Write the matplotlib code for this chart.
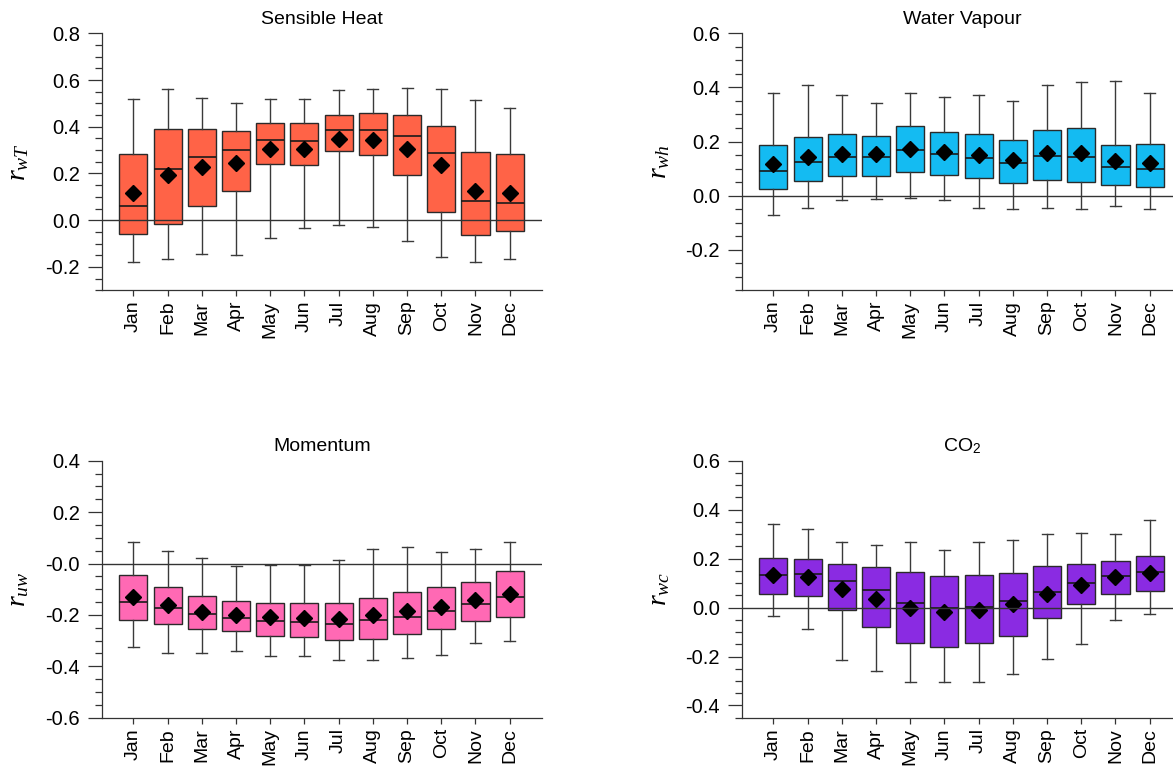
import matplotlib

matplotlib.use("Agg")
import matplotlib.pyplot as plt
from matplotlib.ticker import MultipleLocator

plt.rcParams["font.family"] = ["Liberation Sans", "DejaVu Sans"]
plt.rcParams["mathtext.fontset"] = "custom"
plt.rcParams["mathtext.it"] = "Liberation Serif:italic"
plt.rcParams["mathtext.rm"] = "Liberation Sans"
plt.rcParams["axes.unicode_minus"] = False

MONTHS = ["Jan", "Feb", "Mar", "Apr", "May", "Jun",
          "Jul", "Aug", "Sep", "Oct", "Nov", "Dec"]

# Sensible heat, r_wT
HEAT_LO = [-0.178, -0.166, -0.146, -0.150, -0.075, -0.035, -0.020, -0.027, -0.088, -0.156, -0.178, -0.168]
HEAT_Q1 = [-0.058, -0.018, 0.061, 0.126, 0.242, 0.235, 0.296, 0.280, 0.195, 0.035, -0.062, -0.046]
HEAT_MED = [0.061, 0.220, 0.272, 0.299, 0.344, 0.341, 0.388, 0.385, 0.360, 0.286, 0.084, 0.072]
HEAT_Q3 = [0.282, 0.390, 0.392, 0.380, 0.416, 0.415, 0.452, 0.459, 0.450, 0.402, 0.291, 0.285]
HEAT_HI = [0.520, 0.560, 0.524, 0.503, 0.520, 0.520, 0.557, 0.562, 0.568, 0.560, 0.516, 0.481]
HEAT_MEAN = [0.115, 0.194, 0.228, 0.244, 0.303, 0.306, 0.348, 0.343, 0.306, 0.238, 0.124, 0.117]

# Water vapour, r_wh
VAP_LO = [-0.071, -0.047, -0.017, -0.011, -0.007, -0.016, -0.044, -0.048, -0.047, -0.050, -0.038, -0.049]
VAP_Q1 = [0.024, 0.053, 0.073, 0.073, 0.086, 0.077, 0.064, 0.048, 0.056, 0.050, 0.038, 0.033]
VAP_MED = [0.092, 0.126, 0.141, 0.143, 0.169, 0.152, 0.140, 0.122, 0.148, 0.144, 0.104, 0.099]
VAP_Q3 = [0.186, 0.218, 0.229, 0.222, 0.256, 0.236, 0.229, 0.207, 0.242, 0.251, 0.187, 0.190]
VAP_HI = [0.378, 0.408, 0.371, 0.344, 0.378, 0.364, 0.371, 0.348, 0.410, 0.420, 0.422, 0.378]
VAP_MEAN = [0.116, 0.144, 0.155, 0.152, 0.174, 0.162, 0.149, 0.132, 0.157, 0.159, 0.129, 0.120]

# Momentum, r_uw
MOM_LO = [-0.325, -0.347, -0.347, -0.342, -0.359, -0.360, -0.376, -0.374, -0.368, -0.356, -0.311, -0.300]
MOM_Q1 = [-0.221, -0.237, -0.256, -0.264, -0.281, -0.285, -0.299, -0.293, -0.276, -0.255, -0.223, -0.210]
MOM_MED = [-0.149, -0.175, -0.198, -0.213, -0.224, -0.226, -0.234, -0.220, -0.210, -0.185, -0.158, -0.132]
MOM_Q3 = [-0.044, -0.093, -0.128, -0.147, -0.155, -0.153, -0.154, -0.133, -0.109, -0.090, -0.071, -0.029]
MOM_HI = [0.084, 0.049, 0.021, -0.008, -0.005, -0.007, 0.015, 0.055, 0.064, 0.043, 0.056, 0.084]
MOM_MEAN = [-0.129, -0.160, -0.189, -0.202, -0.207, -0.211, -0.216, -0.202, -0.184, -0.168, -0.143, -0.118]

# CO2, r_wc
CO2_LO = [-0.034, -0.087, -0.213, -0.261, -0.306, -0.303, -0.306, -0.271, -0.209, -0.147, -0.049, -0.025]
CO2_Q1 = [0.055, 0.046, -0.011, -0.078, -0.145, -0.160, -0.146, -0.116, -0.041, 0.014, 0.055, 0.068]
CO2_MED = [0.134, 0.136, 0.109, 0.071, 0.019, 0.000, 0.002, 0.025, 0.065, 0.100, 0.128, 0.145]
CO2_Q3 = [0.202, 0.199, 0.180, 0.165, 0.147, 0.128, 0.132, 0.143, 0.168, 0.180, 0.190, 0.209]
CO2_HI = [0.342, 0.322, 0.269, 0.255, 0.267, 0.236, 0.266, 0.276, 0.299, 0.306, 0.302, 0.356]
CO2_MEAN = [0.135, 0.123, 0.075, 0.037, 0.000, -0.019, -0.010, 0.014, 0.056, 0.093, 0.124, 0.143]

HEAT_TICKS = [-0.2, 0.0, 0.2, 0.4, 0.6, 0.8]
HEAT_TICKLABELS = ["-0.2", "0.0", "0.2", "0.4", "0.6", "0.8"]
VAP_TICKS = [-0.2, 0.0, 0.2, 0.4, 0.6]
VAP_TICKLABELS = ["-0.2", "0.0", "0.2", "0.4", "0.6"]
MOM_TICKS = [-0.6, -0.4, -0.2, 0.0, 0.2, 0.4]
MOM_TICKLABELS = ["-0.6", "-0.4", "-0.2", "-0.0", "0.2", "0.4"]
CO2_TICKS = [-0.4, -0.2, 0.0, 0.2, 0.4, 0.6]
CO2_TICKLABELS = ["-0.4", "-0.2", "0.0", "0.2", "0.4", "0.6"]

W, H = 1173, 767
PANELS = [
    ("Sensible Heat", r"$r_{wT}$", "#ff6347",
     (HEAT_LO, HEAT_Q1, HEAT_MED, HEAT_Q3, HEAT_HI, HEAT_MEAN),
     (-0.3, 0.8), HEAT_TICKS, HEAT_TICKLABELS, (102, 33.3)),
    ("Water Vapour", r"$r_{wh}$", "#14bbf2",
     (VAP_LO, VAP_Q1, VAP_MED, VAP_Q3, VAP_HI, VAP_MEAN),
     (-0.35, 0.6), VAP_TICKS, VAP_TICKLABELS, (742, 33.3)),
    ("Momentum", r"$r_{uw}$", "#ff69b4",
     (MOM_LO, MOM_Q1, MOM_MED, MOM_Q3, MOM_HI, MOM_MEAN),
     (-0.6, 0.4), MOM_TICKS, MOM_TICKLABELS, (102, 460.7)),
    ("CO$_2$", r"$r_{wc}$", "#8a2be2",
     (CO2_LO, CO2_Q1, CO2_MED, CO2_Q3, CO2_HI, CO2_MEAN),
     (-0.45, 0.6), CO2_TICKS, CO2_TICKLABELS, (742, 460.7)),
]

fig = plt.figure(figsize=(W / 100, H / 100), dpi=100)
ax_w, ax_h = 440, 257

for title, ylabel, color, stats, ylim, ticks, ticklabels, (x0, y0) in PANELS:
    ax = fig.add_axes([x0 / W, 1 - (y0 + ax_h) / H, ax_w / W, ax_h / H])
    lo, q1, med, q3, hi, mean = stats
    boxes = [
        dict(whislo=a, q1=b, med=c, q3=d, whishi=e, mean=f, fliers=[])
        for a, b, c, d, e, f in zip(lo, q1, med, q3, hi, mean)
    ]
    ax.bxp(
        boxes,
        positions=range(len(MONTHS)),
        widths=0.82,
        capwidths=0.32,
        patch_artist=True,
        showmeans=True,
        boxprops=dict(facecolor=color, edgecolor="#2a2a2a", linewidth=1.0),
        medianprops=dict(color="#1a1a1a", linewidth=1.2),
        whiskerprops=dict(color="#3a3a3a", linewidth=1.0),
        capprops=dict(color="#3a3a3a", linewidth=1.0),
        meanprops=dict(marker="D", markerfacecolor="black",
                       markeredgecolor="black", markersize=8.5),
        zorder=2,
    )
    ax.axhline(0, color="#333333", lw=1.0, zorder=3)

    ax.set_xlim(-0.92, 11.945)
    ax.set_ylim(*ylim)
    ax.set_xticks(range(len(MONTHS)))
    ax.set_xticklabels(MONTHS, rotation=90, fontsize=14)
    ax.set_yticks(ticks)
    ax.set_yticklabels(ticklabels, fontsize=14.5)
    ax.yaxis.set_minor_locator(MultipleLocator(0.05))
    ax.tick_params(axis="y", which="major", length=10, width=0.9,
                   color="#333333", pad=6)
    ax.tick_params(axis="y", which="minor", length=4.8, width=0.9,
                   color="#333333")
    ax.tick_params(axis="x", length=4.5, width=0.9, color="#333333", pad=3)
    for side in ("top", "right"):
        ax.spines[side].set_visible(False)
    for side in ("left", "bottom"):
        ax.spines[side].set_color("#333333")
        ax.spines[side].set_linewidth(0.9)

    ax.set_title(title, fontsize=14, pad=7)
    ax.set_ylabel(ylabel, fontsize=20)
    ax.yaxis.set_label_coords(-0.16, 0.5)

fig.savefig("out.png", dpi=100)
